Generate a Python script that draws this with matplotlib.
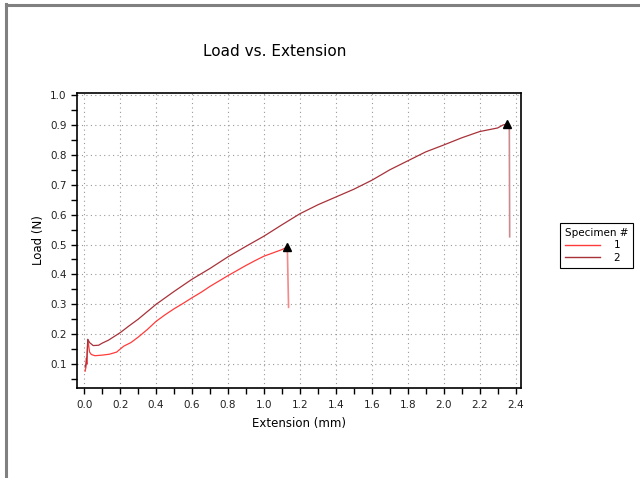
import matplotlib
matplotlib.use("Agg")
import matplotlib.pyplot as plt
from matplotlib.lines import Line2D
from matplotlib.ticker import MultipleLocator, FormatStrFormatter

# ---- data ----
ext1 = [0.005, 0.010, 0.012, 0.015, 0.020, 0.030, 0.040, 0.060, 0.10, 0.14, 0.18,
        0.20, 0.22, 0.26, 0.30, 0.35, 0.40, 0.45, 0.50, 0.55, 0.60, 0.65, 0.70,
        0.75, 0.80, 0.85, 0.90, 0.95, 1.00, 1.05, 1.10, 1.13]
load1 = [0.076, 0.090, 0.120, 0.100, 0.182, 0.140, 0.132, 0.128, 0.130, 0.133, 0.140,
         0.150, 0.160, 0.172, 0.190, 0.215, 0.243, 0.265, 0.285, 0.303, 0.322, 0.340,
         0.360, 0.378, 0.396, 0.413, 0.430, 0.446, 0.461, 0.472, 0.483, 0.492]
drop1_ext = [1.13, 1.137]
drop1_load = [0.492, 0.290]

ext2 = [0.005, 0.010, 0.015, 0.020, 0.030, 0.050, 0.080, 0.10, 0.135, 0.20, 0.25,
        0.30, 0.40, 0.50, 0.60, 0.70, 0.80, 0.90, 1.00, 1.10, 1.20, 1.30, 1.40,
        1.50, 1.60, 1.70, 1.80, 1.90, 2.00, 2.10, 2.20, 2.30, 2.33, 2.35, 2.365]
load2 = [0.090, 0.100, 0.120, 0.183, 0.172, 0.162, 0.163, 0.170, 0.180, 0.205, 0.228,
         0.250, 0.300, 0.343, 0.384, 0.420, 0.459, 0.494, 0.528, 0.566, 0.603, 0.633,
         0.659, 0.685, 0.715, 0.750, 0.780, 0.810, 0.833, 0.857, 0.878, 0.890, 0.900,
         0.903, 0.900]
drop2_ext = [2.365, 2.367]
drop2_load = [0.900, 0.526]

peak_ext = [1.13, 2.35]
peak_load = [0.492, 0.903]

specimens = ["1", "2"]
colors = ["#ff3b3b", "#a8323a"]
drop_colors = ["#f28a8a", "#cc8a8e"]

x_ticks = [0.0, 0.2, 0.4, 0.6, 0.8, 1.0, 1.2, 1.4, 1.6, 1.8, 2.0, 2.2, 2.4]
y_ticks = [0.1, 0.2, 0.3, 0.4, 0.5, 0.6, 0.7, 0.8, 0.9, 1.0]

plt.rcParams['font.family'] = ['DejaVu Sans']

fig = plt.figure(figsize=(6.4, 4.78), dpi=100)
fig.patch.set_facecolor("white")
ax = fig.add_axes([77/640, 1-388/478, (521-77)/640, (388-92.7)/478])

ax.plot(ext1, load1, color=colors[0], lw=0.9, zorder=3)
ax.plot(drop1_ext, drop1_load, color=drop_colors[0], lw=1.2, zorder=3)
ax.plot(ext2, load2, color=colors[1], lw=0.9, zorder=3)
ax.plot(drop2_ext, drop2_load, color=drop_colors[1], lw=1.2, zorder=3)
ax.plot(peak_ext, peak_load, linestyle="none", marker="^", color="black",
        markersize=6, zorder=4)

ax.set_xlim(-0.04, 2.43)
ax.set_ylim(0.02, 1.008)
ax.set_xticks(x_ticks)
ax.set_yticks(y_ticks)
ax.xaxis.set_major_formatter(FormatStrFormatter("%.1f"))
ax.yaxis.set_major_formatter(FormatStrFormatter("%.1f"))
ax.xaxis.set_minor_locator(MultipleLocator(0.1))
ax.yaxis.set_minor_locator(MultipleLocator(0.05))
ax.tick_params(which="both", direction="out", length=4, width=1, color="black",
               labelsize=7.5, labelcolor="#222222", top=False, right=False)
ax.tick_params(axis="x", pad=5)
ax.grid(True, which="major", linestyle=(0, (1, 3)), color="#999999", lw=0.8)
for s in ax.spines.values():
    s.set_linewidth(1.2)
    s.set_color("black")

ax.set_xlabel("Extension (mm)", fontsize=8.5, labelpad=5)
ax.set_ylabel("Load (N)", fontsize=8.5, labelpad=4)
fig.text(275/640, 1-52/478, "Load vs. Extension", fontsize=11, ha="center", va="center")

handles = [Line2D([], [], color=c, lw=1) for c in colors]
leg = fig.legend(handles, specimens, title="Specimen #", loc="upper left",
                 bbox_to_anchor=(560/640, 1-223/478), fontsize=7.5, title_fontsize=7.5,
                 handlelength=3.4, handletextpad=1.3, labelspacing=0.25,
                 borderpad=0.45, borderaxespad=0, fancybox=False, framealpha=1,
                 edgecolor="black", alignment="left")
leg.get_frame().set_linewidth(0.8)

# outer window frame (gray, left and top)
fig.add_artist(Line2D([5.5/640, 5.5/640], [0, 1-4/478], transform=fig.transFigure,
                      color="#808080", lw=2.2))
fig.add_artist(Line2D([5.5/640, 1], [1-4.5/478, 1-4.5/478], transform=fig.transFigure,
                      color="#808080", lw=2.2))

fig.savefig("out.png", dpi=100)
